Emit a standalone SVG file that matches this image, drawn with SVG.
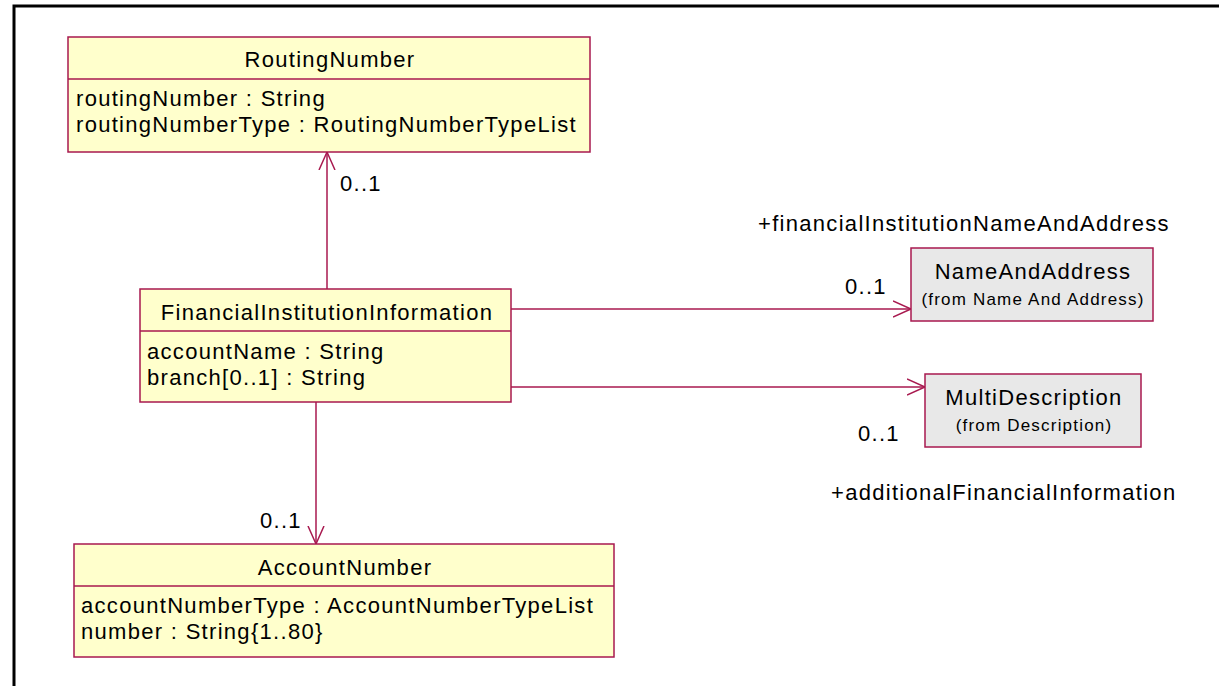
<svg xmlns="http://www.w3.org/2000/svg" width="1219" height="686" viewBox="0 0 1219 686">
<defs>
<style>
.cls{fill:#FFFFCC;stroke:#A8194F;stroke-width:1.5}
.ext{fill:#E8E8E8;stroke:#A8194F;stroke-width:1.5}
.sep{stroke:#A8194F;stroke-width:1.5}
.t{font-family:"Liberation Sans",Arial,sans-serif;font-size:22px;letter-spacing:1.3px;fill:#000}
.s{font-family:"Liberation Sans",Arial,sans-serif;font-size:17px;letter-spacing:1.2px;fill:#000}
.c{text-anchor:middle}
.ln{stroke:#A8194F;stroke-width:1.5;fill:none}
</style>
<marker id="open" viewBox="0 0 20 20" refX="18" refY="10" markerWidth="20" markerHeight="20" markerUnits="userSpaceOnUse" orient="auto">
<path d="M0,2 L18,10 L0,18" fill="none" stroke="#A8194F" stroke-width="1.5"/>
</marker>
</defs>
<rect width="1219" height="686" fill="#fff"/>
<path d="M14,686 V6 H1219" fill="none" stroke="#000" stroke-width="3"/>
<g id="connectors">
<line class="ln" x1="327" y1="289" x2="327" y2="152" marker-end="url(#open)"/>
<line class="ln" x1="316" y1="402" x2="316" y2="544" marker-end="url(#open)"/>
<line class="ln" x1="511" y1="309" x2="911" y2="309" marker-end="url(#open)"/>
<line class="ln" x1="511" y1="387" x2="925" y2="387" marker-end="url(#open)"/>
<text class="t" x="340" y="191">0..1</text>
<text class="t" x="260" y="528">0..1</text>
<text class="t" x="845" y="294">0..1</text>
<text class="t" x="858" y="441">0..1</text>
<text class="t" x="758" y="231">+financialInstitutionNameAndAddress</text>
<text class="t" x="831" y="500">+additionalFinancialInformation</text>
</g>
<g id="RoutingNumber">
<rect class="cls" x="68" y="37" width="522" height="115"/>
<line class="sep" x1="68" y1="79" x2="590" y2="79"/>
<text class="t c" x="330" y="67">RoutingNumber</text>
<text class="t" x="76" y="106">routingNumber : String</text>
<text class="t" x="76" y="132">routingNumberType : RoutingNumberTypeList</text>
</g>
<g id="FinancialInstitutionInformation">
<rect class="cls" x="140" y="289" width="371" height="113"/>
<line class="sep" x1="140" y1="331" x2="511" y2="331"/>
<text class="t c" x="327" y="320">FinancialInstitutionInformation</text>
<text class="t" x="147" y="359">accountName : String</text>
<text class="t" x="147" y="385">branch[0..1] : String</text>
</g>
<g id="AccountNumber">
<rect class="cls" x="74" y="544" width="540" height="113"/>
<line class="sep" x1="74" y1="586" x2="614" y2="586"/>
<text class="t c" x="345" y="575">AccountNumber</text>
<text class="t" x="81" y="613">accountNumberType : AccountNumberTypeList</text>
<text class="t" x="81" y="639">number : String{1..80}</text>
</g>
<g id="NameAndAddress">
<rect class="ext" x="911" y="248" width="242" height="73"/>
<text class="t c" x="1033" y="279">NameAndAddress</text>
<text class="s c" x="1033" y="305">(from Name And Address)</text>
</g>
<g id="MultiDescription">
<rect class="ext" x="925" y="374" width="216" height="73"/>
<text class="t c" x="1034" y="405">MultiDescription</text>
<text class="s c" x="1034" y="431">(from Description)</text>
</g>
</svg>
